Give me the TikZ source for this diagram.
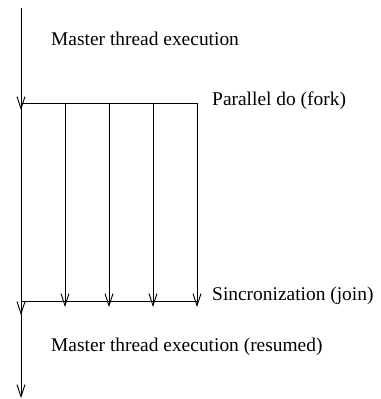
\documentclass[tikz,border=0pt]{standalone}
\usepackage{fontspec}
\setmainfont{Liberation Serif}
\usetikzlibrary{arrows.meta}
\begin{document}
\begin{tikzpicture}[x=1bp,y=-1bp,
  ln/.style={line width=0.9bp,black},
  arr/.style={ln,-{Straight Barb[length=12bp,width=8bp,line width=0.9bp]}},
  lbl/.style={anchor=base west,inner sep=0pt,font=\fontsize{19.5}{22}\selectfont}]
\useasboundingbox (0,0) rectangle (381,399);
% coordinates
\coordinate (top) at (21,8);
\coordinate (toptip) at (21,110);
\foreach \i/\x in {0/21,1/65,2/109,3/153,4/197}{
  \coordinate (f\i) at (\x,103);
  \coordinate (j\i) at (\x,301);
  \coordinate (t\i) at (\x,307);
}
\coordinate (m1) at (21,315);
\coordinate (m2) at (21,312);
\coordinate (bot) at (21,398);
% master thread
\draw[arr] (top) -- (toptip);
% fork line
\draw[ln] (f0) -- (f4);
\draw[ln] (f0) -- (j0);
\foreach \i in {1,2,3,4}{ \draw[arr] (f\i) -- (t\i); }
% join line
\draw[ln] (j0) -- (j4);
\draw[arr] (j0) -- (m1);
\draw[arr] (m2) -- (bot);
% labels
\node[lbl] (l1) at (51,45) {Master thread execution};
\node[lbl] (l2) at (212,105) {Parallel do (fork)};
\node[lbl] (l3) at (212,300) {Sincronization (join)};
\node[lbl] (l4) at (51,351) {Master thread execution (resumed)};
\end{tikzpicture}
\end{document}
